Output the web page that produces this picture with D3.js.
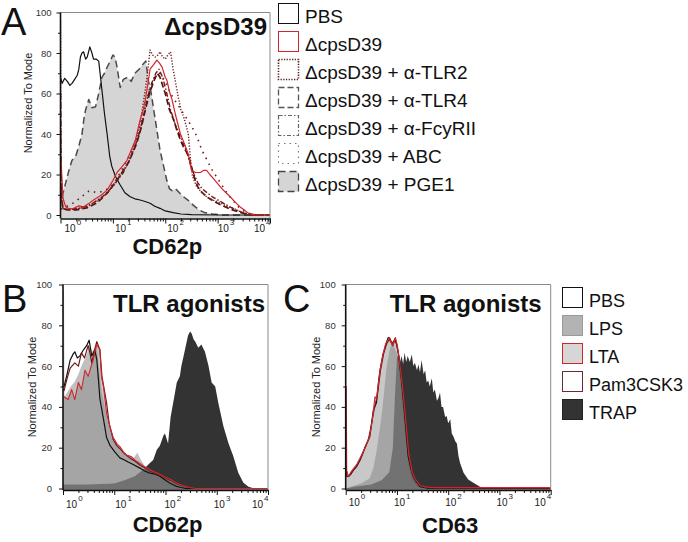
<!DOCTYPE html>
<html><head><meta charset="utf-8">
<script src="https://cdn.jsdelivr.net/npm/d3@7"></script>
<style>
body{margin:0;background:#fff}
svg{display:block;font-family:"Liberation Sans",Arial,Helvetica,sans-serif}
</style>
</head><body>
<svg id="chart" width="688" height="542"></svg>
<script>
// ---------- DATA (x = log10 intensity exponent, y = % of mode) ----------
const decades = [0, 1, 2, 3, 4];
const yTicks = [0, 20, 40, 60, 80, 100];
const legendA = ["PBS", "ΔcpsD39", "ΔcpsD39 + α-TLR2", "ΔcpsD39 + α-TLR4", "ΔcpsD39 + α-FcyRII", "ΔcpsD39 + ABC", "ΔcpsD39 + PGE1"];
const legendBC = ["PBS", "LPS", "LTA", "Pam3CSK3", "TRAP"];
const titleA = "ΔcpsD39", titleB = "TLR agonists", titleC = "TLR agonists";
const xTitleA = "CD62p", xTitleB = "CD62p", xTitleC = "CD63";
const yTitle = "Normalized To Mode";

// Panel A
const aPBS = [[0,68],[0.03,65],[0.08,67.5],[0.13,66],[0.18,64],[0.22,65],[0.27,67],[0.32,69],[0.35,72],[0.38,78],[0.41,80],[0.44,80.6],[0.48,77],[0.51,78],[0.56,83],[0.6,80],[0.63,77],[0.68,77],[0.73,76],[0.79,62],[0.84,50],[0.89,40],[0.94,29],[0.98,24],[1.05,19],[1.14,14.8],[1.23,11],[1.33,9],[1.42,8],[1.52,7.4],[1.6,6.8],[1.71,5.8],[1.8,4.3],[1.9,3.3],[2.0,2],[2.15,1.2],[2.3,0.5],[2.5,0.2],[3,0],[4,0]];
const aCps = [[0,30],[0.02,22],[0.05,8],[0.1,4],[0.17,3],[0.25,3.3],[0.35,4.5],[0.44,4],[0.53,5.5],[0.63,7.4],[0.76,9.5],[0.89,12.3],[1.0,17],[1.08,21],[1.18,24],[1.27,27],[1.35,32],[1.43,37],[1.52,47],[1.58,52],[1.62,57],[1.67,65],[1.71,72],[1.77,74],[1.84,76.5],[1.89,75],[1.94,73],[2.0,68],[2.03,66.7],[2.08,61],[2.13,57],[2.2,49],[2.29,40],[2.37,35],[2.44,30],[2.5,22],[2.58,21],[2.67,21],[2.73,22],[2.79,22],[2.85,20],[2.92,18],[3.0,15.5],[3.08,13],[3.16,11],[3.24,9],[3.33,6.5],[3.43,4],[3.51,2.5],[3.59,0.8],[3.7,0.2],[3.8,0],[4,0]];
const aTLR2 = [[0,96],[0.01,20],[0.04,4],[0.1,2.5],[0.3,3],[0.5,4],[0.7,7],[0.9,11],[1.1,18],[1.3,26],[1.45,37],[1.55,50],[1.62,62],[1.67,72],[1.71,81.5],[1.76,79],[1.81,78],[1.86,79],[1.9,80.6],[1.95,78],[2.0,77],[2.05,79],[2.1,80.6],[2.15,72],[2.2,65],[2.25,58],[2.3,52],[2.35,48.5],[2.4,44],[2.44,40],[2.48,28],[2.52,19],[2.6,14],[2.7,11],[2.79,9],[2.9,7.5],[3.05,6],[3.2,4],[3.3,3.3],[3.45,1.5],[3.55,0.5],[3.7,0],[4,0]];
const aTLR4 = [[0,60],[0.01,10],[0.05,3],[0.15,2.5],[0.3,2.5],[0.5,3.5],[0.7,6],[0.9,11],[1.1,18],[1.3,26],[1.45,35],[1.55,44],[1.62,52],[1.7,60],[1.78,66],[1.85,70],[1.9,68],[2.0,60],[2.08,52],[2.16,47],[2.22,42],[2.29,37],[2.36,33],[2.44,29.6],[2.5,24],[2.56,18],[2.62,14],[2.67,12],[2.73,10.5],[2.79,9],[2.88,7.5],[2.98,6],[3.1,4.5],[3.25,2.8],[3.4,1.5],[3.55,0.5],[3.7,0],[4,0]];
const aFcy = [[0,40],[0.01,8],[0.05,3],[0.2,2.8],[0.4,3.5],[0.6,5.5],[0.8,9],[1.0,14],[1.2,21],[1.35,29],[1.48,38],[1.58,48],[1.66,58],[1.74,65],[1.82,70],[1.88,72],[1.95,68],[2.03,60],[2.1,52],[2.2,44],[2.3,38],[2.4,32],[2.48,25],[2.55,20],[2.62,16],[2.7,13],[2.8,11],[2.9,9],[3.0,7.5],[3.1,6],[3.2,4.5],[3.35,2.5],[3.5,1],[3.65,0.3],[3.8,0],[4,0]];
const aABC = [[0,3],[0.1,4],[0.25,6],[0.4,9],[0.55,12],[0.7,11],[0.85,12],[1.0,15],[1.1,19],[1.25,26],[1.4,34],[1.5,42],[1.6,52],[1.7,62],[1.8,68],[1.9,70],[2.0,66],[2.1,60],[2.2,56],[2.3,52],[2.4,48],[2.5,44],[2.6,39],[2.7,32],[2.8,27],[2.9,22],[3.0,18],[3.1,14],[3.2,10],[3.3,7],[3.4,4],[3.5,2],[3.6,0.8],[3.7,0.2],[3.8,0],[4,0]];
const aPGE1 = [[0,20],[0.02,9],[0.06,12],[0.1,16],[0.16,22],[0.22,27],[0.29,29],[0.35,34],[0.41,40],[0.45,48],[0.48,52],[0.54,57],[0.6,53],[0.67,53.5],[0.73,60],[0.79,68],[0.84,70],[0.89,73],[0.95,76],[1.0,79],[1.04,78],[1.08,73],[1.14,63],[1.2,67],[1.28,68],[1.35,66],[1.42,70],[1.5,72],[1.56,74],[1.63,76],[1.68,66],[1.72,62],[1.78,52],[1.84,42],[1.9,32],[1.97,24],[2.03,17],[2.08,13],[2.13,12],[2.2,13],[2.27,11],[2.35,9],[2.45,7],[2.55,4.5],[2.65,2.5],[2.75,1.2],[2.9,0.5],[3.1,0],[4,0]];

// Panel B
const bPBS = [[0,50],[0.02,50],[0.07,55],[0.14,63],[0.2,66],[0.23,67],[0.28,64],[0.33,65],[0.4,68],[0.46,70],[0.51,72.7],[0.56,65],[0.62,68],[0.66,63],[0.69,54],[0.72,44],[0.79,34],[0.85,25],[0.92,21],[1.01,18],[1.11,15],[1.2,14],[1.27,13],[1.35,12],[1.5,10],[1.6,8.5],[1.7,7.5],[1.8,7],[1.89,6],[2.0,4],[2.09,2.6],[2.2,1.2],[2.28,0.6],[2.4,0],[4,0]];
const bLTA = [[0,45],[0.02,45],[0.1,43.6],[0.17,48.5],[0.23,43.6],[0.3,52],[0.36,48.5],[0.43,58],[0.49,55],[0.55,60],[0.59,63],[0.63,68],[0.66,70.6],[0.72,68],[0.75,55],[0.79,50],[0.85,37],[0.92,30],[0.98,25],[1.05,22],[1.11,20.5],[1.18,18],[1.24,16.4],[1.34,15.5],[1.4,14],[1.5,12.3],[1.6,10.5],[1.7,9],[1.8,8],[1.89,7],[2.0,5.5],[2.09,4.5],[2.2,3],[2.28,2],[2.4,1],[2.47,0.5],[2.6,0],[4,0]];
const bPam = [[0,48.5],[0.02,48],[0.08,54],[0.14,59],[0.23,61.6],[0.3,60],[0.36,66.5],[0.42,64],[0.49,70],[0.53,66],[0.56,61.6],[0.62,68],[0.66,72],[0.72,68],[0.76,55],[0.85,42],[0.9,32],[0.98,24],[1.05,21],[1.11,19.5],[1.2,17],[1.3,15],[1.4,13.5],[1.5,11.5],[1.6,10],[1.7,8.5],[1.8,7.5],[1.9,6.5],[2.0,5],[2.1,4],[2.2,2.6],[2.3,1.5],[2.45,0.4],[2.6,0],[4,0]];
const bLPS = [[0,97],[0.02,97],[0.03,45],[0.08,47],[0.15,50],[0.22,52],[0.3,56],[0.36,60],[0.45,65],[0.52,70],[0.58,67],[0.65,72],[0.7,60],[0.75,48],[0.85,36],[0.98,24],[1.1,19],[1.2,17],[1.3,16],[1.38,15],[1.45,17.5],[1.52,14],[1.6,11],[1.7,9.5],[1.8,8],[1.9,7],[2.0,5.5],[2.1,4.5],[2.2,3],[2.35,1.5],[2.5,0.5],[2.6,0],[4,0]];
const bTRAP = [[0,2],[0.5,2],[1.0,2.5],[1.2,4],[1.4,6],[1.5,8],[1.6,10],[1.7,12.6],[1.76,14],[1.83,19],[1.89,21],[1.96,26],[1.99,27],[2.05,22],[2.1,35],[2.15,42],[2.22,52],[2.28,55],[2.31,60],[2.38,68],[2.44,75],[2.48,77],[2.51,76],[2.55,73],[2.58,72],[2.64,69],[2.7,70.6],[2.77,67],[2.84,60],[2.9,52],[2.97,50],[3.03,42],[3.13,30.5],[3.23,22],[3.32,16],[3.42,7.7],[3.52,2.8],[3.62,0.8],[3.7,0.3],[3.8,0],[4,0]];

// Panel C
const cPBS = [[0,14],[0.02,6],[0.05,5.8],[0.1,7],[0.15,9],[0.22,11],[0.28,14],[0.33,17],[0.38,20.5],[0.43,23],[0.47,25.4],[0.51,33],[0.54,38.5],[0.6,42],[0.64,52],[0.67,58],[0.73,66],[0.8,72],[0.83,74],[0.86,73.6],[0.92,70],[0.96,73.6],[0.99,71],[1.03,66],[1.09,53],[1.16,33.6],[1.22,15.6],[1.27,10],[1.32,5.8],[1.45,0.9],[1.6,0.2],[1.8,0],[4,0]];
const cLTA = [[0,50],[0.01,50],[0.02,9],[0.05,6],[0.1,8],[0.16,10],[0.22,12],[0.28,15],[0.34,18],[0.4,21],[0.46,25],[0.5,30],[0.54,38],[0.57,45],[0.6,44],[0.67,58],[0.72,65],[0.78,71],[0.85,74],[0.92,70],[0.97,74],[1.01,70],[1.05,62],[1.1,52],[1.17,34],[1.23,17],[1.3,8],[1.35,5],[1.45,1.5],[1.55,0.8],[1.7,0.5],[4,0.5]];
const cPam = [[0,12],[0.02,6],[0.06,6],[0.12,8],[0.2,10.5],[0.28,14],[0.36,19],[0.44,24],[0.5,31],[0.55,38],[0.62,46],[0.68,58],[0.74,66],[0.8,71],[0.85,73],[0.9,71],[0.96,73],[1.0,70],[1.05,63],[1.1,52],[1.17,33],[1.23,16],[1.3,7],[1.38,3],[1.5,1],[1.65,0.3],[1.8,0],[4,0]];
const cLPS = [[0,0],[0.1,1],[0.3,2.5],[0.47,5],[0.54,10],[0.6,18],[0.67,30],[0.72,40],[0.76,50],[0.8,60],[0.86,68],[0.9,72],[0.95,69],[1.0,66],[1.06,55],[1.12,38],[1.18,22],[1.24,10],[1.3,4],[1.4,1],[1.55,0.3],[1.7,0],[4,0]];
const cTRAP = [[0,0],[0.2,1],[0.5,2],[0.7,4],[0.85,8],[0.92,20],[0.96,45],[1.0,64],[1.03,66.5],[1.06,62],[1.09,65],[1.12,61],[1.15,66.5],[1.18,62],[1.21,65],[1.25,62],[1.29,65.7],[1.32,60],[1.35,61.6],[1.39,58],[1.42,60.8],[1.45,57],[1.48,63],[1.52,56],[1.55,58],[1.58,52],[1.61,53],[1.64,50],[1.68,54],[1.71,47],[1.74,48.5],[1.78,43],[1.81,44.4],[1.84,47],[1.87,40],[1.9,40],[1.94,35],[1.97,35.5],[2.0,32],[2.04,34],[2.07,27],[2.1,25.6],[2.14,23],[2.17,22],[2.2,16],[2.23,12.6],[2.3,7.7],[2.39,4.4],[2.49,2.8],[2.62,0.8],[2.75,0],[4,0]];

// ---------- DRAWING ----------
const svg = d3.select("#chart");
const fontTick = 10;

function panel(cfg) {
  const x = d3.scaleLog().domain([1, 1e4]).range([cfg.x0, cfg.x1]);
  const y = d3.scaleLinear().domain([0, 100]).range([cfg.yb, cfg.yt]);
  const g = svg.append("g");
  const clipId = "clip" + cfg.id;
  svg.append("clipPath").attr("id", clipId).append("rect")
    .attr("x", cfg.x0).attr("y", cfg.yt - 2).attr("width", cfg.x1 - cfg.x0).attr("height", cfg.axisY - cfg.yt + 2);
  const plot = g.append("g").attr("clip-path", `url(#${clipId})`);
  const line = d3.line().x(d => x(Math.pow(10, d[0]))).y(d => y(d[1]));
  const area = d3.area().x(d => x(Math.pow(10, d[0]))).y0(cfg.axisY).y1(d => y(d[1]));
  cfg.series.forEach(s => {
    if (s.fill) {
      plot.append("path").datum(s.data).attr("d", area)
        .attr("fill", s.fill).attr("fill-opacity", s.fo == null ? 1 : s.fo).attr("stroke", "none");
    }
    if (s.stroke) {
      plot.append("path").datum(s.data).attr("d", line)
        .attr("fill", "none").attr("stroke", s.stroke).attr("stroke-width", s.sw || 1.2)
        .attr("stroke-dasharray", s.dash || null).attr("stroke-linejoin", "round");
    }
  });
  // frame
  g.append("path").attr("d", `M${cfg.x0},${cfg.yt}H${cfg.x1}V${cfg.axisY}`)
    .attr("fill", "none").attr("stroke", "#8a8a8a").attr("stroke-width", 1);
  // x axis
  const minor = [];
  decades.slice(0, -1).forEach(d => { for (let k = 2; k <= 9; k++) minor.push(k * Math.pow(10, d)); });
  const xMaj = d3.axisBottom(x).tickValues(decades.map(d => Math.pow(10, d))).tickSize(5).tickFormat("").tickSizeOuter(0);
  const xMin = d3.axisBottom(x).tickValues(minor).tickSize(3).tickFormat("").tickSizeOuter(0);
  g.append("g").attr("transform", `translate(0,${cfg.axisY})`).call(xMaj);
  g.append("g").attr("transform", `translate(0,${cfg.axisY})`).call(xMin).select(".domain").remove();
  g.selectAll(".domain").attr("stroke", "#111").attr("stroke-width", 1.3);
  g.selectAll(".tick line").attr("stroke", "#111");
  decades.forEach((d, i) => {
    const tx = x(Math.pow(10, d));
    const last = i === decades.length - 1;
    const t = g.append("text").attr("font-size", fontTick).attr("fill", "#222")
      .attr("x", last ? tx + 0.5 : tx + cfg.lblOff[i]).attr("y", cfg.lblY)
      .attr("text-anchor", last ? "end" : "start");
    t.append("tspan").text("10");
    t.append("tspan").attr("font-size", 8).attr("dy", -7).attr("dx", 1).text(d);
  });
  // y axis
  const yMaj = d3.axisLeft(y).tickValues(yTicks).tickSize(4).tickFormat("").tickSizeOuter(0);
  const yMin = d3.axisLeft(y).tickValues([10, 30, 50, 70, 90]).tickSize(2.5).tickFormat("").tickSizeOuter(0);
  const gy = g.append("g").attr("transform", `translate(${cfg.x0},0)`).call(yMaj);
  gy.select(".domain").attr("d", `M0,${cfg.yt}V${cfg.axisY}`).attr("stroke", "#111").attr("stroke-width", 1.6);
  g.append("g").attr("transform", `translate(${cfg.x0},0)`).call(yMin).select(".domain").remove();
  g.selectAll(".tick line").attr("stroke", "#111");
  yTicks.forEach(v => {
    g.append("text").attr("x", cfg.x0 - cfg.yLblGap).attr("y", y(v) + 3.5)
      .attr("text-anchor", "end").attr("font-size", 9.5).attr("fill", "#333").text(v);
  });
  g.append("text").attr("transform", `translate(${cfg.yTitleX},${cfg.yTitleY}) rotate(-90)`)
    .attr("text-anchor", "middle").attr("font-size", 11).attr("fill", "#222").text(yTitle);
  // titles
  g.append("text").attr("x", cfg.x1 - cfg.titleOff).attr("y", cfg.titleY).attr("text-anchor", "end")
    .attr("font-size", 24).attr("font-weight", "bold").attr("fill", "#111").text(cfg.title);
  g.append("text").attr("x", (cfg.x0 + cfg.x1) / 2 + 2).attr("y", cfg.xTitleY).attr("text-anchor", "middle")
    .attr("font-size", 22).attr("font-weight", "bold").attr("fill", "#111").text(cfg.xTitle);
  g.append("text").attr("x", cfg.letterX).attr("y", cfg.letterY).attr("font-size", 38).attr("fill", "#111").text(cfg.letter);
}

const cRed = "#d0262b", cDark = "#6e1a1a";
panel({id: "A", x0: 60.5, x1: 270, yb: 215, yt: 12.5, axisY: 218.5, lblY: 231.5, lblOff: [4, 2, 2, 0], titleY: 35, titleOff: 3,
  yLblGap: 9, yTitleX: 32, yTitleY: 103, title: titleA, xTitle: xTitleA, xTitleY: 253.5, letter: "A", letterX: 1, letterY: 34.5,
  series: [
    {data: aPGE1, fill: "#d5d5d5", stroke: "#4a4a4a", sw: 1.5, dash: "7,4"},
    {data: aPBS, stroke: "#111", sw: 1.2},
    {data: aABC, stroke: cDark, sw: 1.6, dash: "1.5,5"},
    {data: aFcy, stroke: cDark, sw: 1.4, dash: "5,2,1.5,2"},
    {data: aTLR4, stroke: "#5a1010", sw: 1.7, dash: "6,3"},
    {data: aTLR2, stroke: "#7a2424", sw: 1.4, dash: "1.3,1.6"},
    {data: aCps, stroke: cRed, sw: 1.2}
  ]});
panel({id: "B", x0: 63, x1: 268, yb: 488.5, yt: 284.5, axisY: 490, lblY: 508, lblOff: [3, 1, -1, -3], titleY: 312, titleOff: 3,
  yLblGap: 11, yTitleX: 36, yTitleY: 387, title: titleB, xTitle: xTitleB, xTitleY: 532, letter: "B", letterX: 2, letterY: 312,
  series: [
    {data: bTRAP, fill: "#333333"},
    {data: bLTA, fill: "#919191", fo: 0.5},
    {data: bLPS, fill: "#828282", fo: 0.5},
    {data: bPBS, stroke: "#111", sw: 1.2},
    {data: bPam, stroke: cDark, sw: 1.2},
    {data: bLTA, stroke: cRed, sw: 1.1}
  ]});
panel({id: "C", x0: 345.7, x1: 550.7, yb: 488.5, yt: 284.5, axisY: 490, lblY: 506, lblOff: [3, -3, -3, -3], titleY: 312, titleOff: 9,
  yLblGap: 10, yTitleX: 320, yTitleY: 387, title: titleC, xTitle: xTitleC, xTitleY: 533, letter: "C", letterX: 283, letterY: 312,
  series: [
    {data: cTRAP, fill: "#333333"},
    {data: cLTA, fill: "#919191", fo: 0.5},
    {data: cLPS, fill: "#828282", fo: 0.5},
    {data: cPBS, stroke: "#111", sw: 1.2},
    {data: cPam, stroke: cDark, sw: 1.1},
    {data: cLTA, stroke: cRed, sw: 1.1}
  ]});

// ---------- LEGENDS ----------
function legend(items, styles, x, y0, step, fs) {
  const g = svg.append("g");
  items.forEach((name, i) => {
    const st = styles[i];
    const yy = y0 + i * step;
    g.append("rect").attr("x", x + 0.5).attr("y", yy + 0.5).attr("width", 20).attr("height", 20)
      .attr("fill", st.fill || "#fff").attr("stroke", st.stroke).attr("stroke-width", st.sw || 1)
      .attr("stroke-dasharray", st.dash || null);
    g.append("text").attr("x", x + 27).attr("y", yy + 19.5).attr("font-size", fs).attr("fill", "#111").text(name);
  });
}
legend(legendA, [
  {stroke: "#111", sw: 1},
  {stroke: cRed, sw: 1},
  {stroke: "#5a2424", sw: 1.6, dash: "1.3,1.4"},
  {stroke: "#555", sw: 1.3, dash: "6,3"},
  {stroke: "#666", sw: 1.2, dash: "4,2,1.5,2"},
  {stroke: "#777", sw: 1.1, dash: "1.5,4"},
  {fill: "#d5d5d5", stroke: "#444", sw: 1.3, dash: "7,4"}
], 278, 3, 28, 19);
legend(legendBC, [
  {stroke: "#111", sw: 1},
  {fill: "#b3b3b3", stroke: "#9a9a9a", sw: 1},
  {fill: "#d6d6d6", stroke: cRed, sw: 1},
  {stroke: "#6e2a2a", sw: 1},
  {fill: "#333", stroke: "#222", sw: 1}
], 562, 287, 28, 18);
</script>
</body></html>
